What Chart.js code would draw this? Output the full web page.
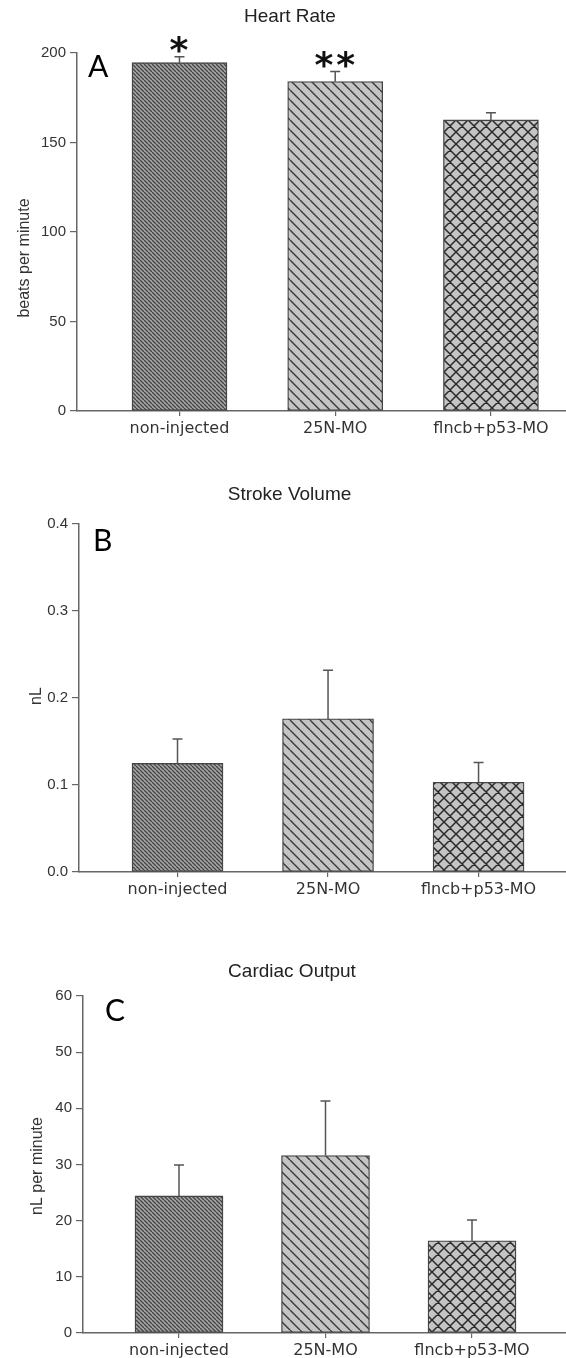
<!DOCTYPE html>
<html>
<head>
<meta charset="utf-8">
<script src="https://cdn.jsdelivr.net/npm/chart.js@4.4.1/dist/chart.umd.min.js"></script>
<style>
body { margin: 0; background: #fff; width: 566px; height: 1358px; position: relative; overflow: hidden; }
canvas { position: absolute; left: 0; }
</style>
</head>
<body>
<canvas id="hr" width="566" height="450" style="top:0px"></canvas>
<canvas id="sv" width="566" height="450" style="top:450px"></canvas>
<canvas id="co" width="566" height="458" style="top:900px"></canvas>
<script>
// data
const groups = ['non-injected', '25N-MO', 'flncb+p53-MO'];

const heartRate = [194.6, 184.0, 162.6];
const heartRateErr = [3.3, 5.6, 4.0];
const heartRateStars = ['*', '**', ''];
const heartRateTicks = [0, 50, 100, 150, 200];

const strokeVolume = [0.125, 0.176, 0.103];
const strokeVolumeErr = [0.028, 0.056, 0.023];
const strokeVolumeTicks = [0, 0.1, 0.2, 0.3, 0.4];

const cardiacOutput = [24.4, 31.6, 16.4];
const cardiacOutputErr = [5.5, 9.7, 3.7];
const cardiacOutputTicks = [0, 10, 20, 30, 40, 50, 60];

// hatch tiles: "\" lines, optional cross
function hatchTile(size, bg, ink, width, cross) {
    const c = document.createElement('canvas');
    c.width = c.height = size;
    const g = c.getContext('2d');
    g.fillStyle = bg;
    g.fillRect(0, 0, size, size);
    g.strokeStyle = ink;
    g.lineWidth = width;
    g.beginPath();
    for (const k of [-1, 0, 1]) {
        g.moveTo(k * size, 0); g.lineTo(k * size + size, size);
        if (cross) { g.moveTo(k * size, size); g.lineTo(k * size + size, 0); }
    }
    g.stroke();
    return c;
}
const tiles = [
    hatchTile(4, '#a6a6a6', '#444', 1.3, false),
    hatchTile(10, '#c4c4c4', '#3a3a3a', 1.4, false),
    hatchTile(12, '#c4c4c4', '#2a2a2a', 1.5, true)
];

// error bars, stars, panel letter, y title
const extras = {
    id: 'extras',
    afterDatasetsDraw(chart, args, o) {
        const ctx = chart.ctx;
        const y = chart.scales.y;
        const ds = chart.data.datasets[0];
        const bars = chart.getDatasetMeta(0).data;
        ctx.save();
        ctx.strokeStyle = '#555';
        ctx.lineWidth = 1.5;
        bars.forEach((b, i) => {
            const top = y.getPixelForValue(ds.data[i].y + ds.errors[i]);
            ctx.beginPath();
            ctx.moveTo(b.x, b.y); ctx.lineTo(b.x, top);
            ctx.moveTo(b.x - 5, top); ctx.lineTo(b.x + 5, top);
            ctx.stroke();
            if (o.stars && o.stars[i]) {
                ctx.fillStyle = '#111';
                ctx.font = 'bold 36px "DejaVu Sans"';
                ctx.textAlign = 'center';
                ctx.textBaseline = 'alphabetic';
                ctx.letterSpacing = '3px';
                ctx.fillText(o.stars[i], b.x + 1, top + 5);
                ctx.letterSpacing = '0px';
            }
        });
        ctx.fillStyle = '#000';
        ctx.font = '30px Lato';
        ctx.textAlign = 'left';
        ctx.textBaseline = 'middle';
        ctx.fillText(o.letter, o.letterX, o.letterY);

        ctx.translate(o.titleX, o.titleY);
        ctx.rotate(-Math.PI / 2);
        ctx.fillStyle = '#333';
        ctx.font = '16px "Liberation Sans"';
        ctx.textAlign = 'center';
        ctx.fillText(o.yTitle, 0, 0);
        ctx.restore();
    }
};

function panel(p) {
    const canvas = document.getElementById(p.id);
    const ctx = canvas.getContext('2d');
    const H = canvas.height;
    new Chart(ctx, {
        type: 'bar',
        data: {
            datasets: [{
                data: p.values.map((v, i) => ({ x: i + 1, y: v })),
                errors: p.errors,
                backgroundColor: tiles.map(t => ctx.createPattern(t, 'repeat')),
                borderColor: '#444',
                borderWidth: 1.3,
                borderSkipped: false,
                barThickness: p.barWidth
            }]
        },
        options: {
            responsive: false,
            animation: false,
            layout: { padding: { left: p.padLeft, right: 0, top: 0, bottom: 0 } },
            plugins: {
                legend: { display: false },
                tooltip: { enabled: false },
                title: {
                    display: true,
                    text: p.title,
                    color: '#222',
                    font: { family: 'Liberation Sans', size: 19, weight: 'normal' },
                    padding: { top: p.titleY - 11.4, bottom: p.top - p.titleY - 11.4 }
                },
                extras: {
                    stars: p.stars,
                    letter: p.letter, letterX: p.letterX, letterY: p.letterY,
                    yTitle: p.yTitle, titleX: p.yTitleX, titleY: p.yTitleY
                }
            },
            scales: {
                x: {
                    type: 'linear',
                    offset: false,
                    min: p.xMin,
                    max: p.xMax,
                    afterFit: s => { s.height = H - p.bottom; },
                    afterBuildTicks: s => { s.ticks = groups.map((g, i) => ({ value: i + 1 })); },
                    border: { display: true, color: '#666', width: 1.5 },
                    grid: { offset: false, drawOnChartArea: false, drawTicks: true, tickLength: 5, color: '#666', lineWidth: 1.2 },
                    ticks: {
                        autoSkip: false, maxRotation: 0, padding: 3,
                        color: '#333',
                        font: { family: 'DejaVu Sans', size: 16 },
                        callback: (v, i) => groups[i]
                    }
                },
                y: {
                    min: 0,
                    max: p.ticks[p.ticks.length - 1],
                    afterFit: s => { s.width = p.axisX - p.padLeft; },
                    afterBuildTicks: s => { s.ticks = p.ticks.map(v => ({ value: v })); },
                    border: { display: true, color: '#666', width: 1.5 },
                    grid: { drawOnChartArea: false, drawTicks: true, tickLength: 7, color: '#666', lineWidth: 1.2 },
                    ticks: {
                        padding: 4,
                        color: '#333',
                        font: { family: 'Liberation Sans', size: 15 },
                        callback: p.fmt
                    }
                }
            }
        },
        plugins: [extras]
    });
}

panel({
    id: 'hr', title: 'Heart Rate', values: heartRate, errors: heartRateErr, stars: heartRateStars,
    ticks: heartRateTicks, fmt: v => String(v),
    padLeft: 14, axisX: 77, titleY: 17, top: 53, bottom: 411,
    xMin: 0.342, xMax: 3.482, barWidth: 95,
    letter: 'A', letterX: 88, letterY: 67,
    yTitle: 'beats per minute', yTitleX: 25, yTitleY: 258
});
panel({
    id: 'sv', title: 'Stroke Volume', values: strokeVolume, errors: strokeVolumeErr, stars: null,
    ticks: strokeVolumeTicks, fmt: v => v.toFixed(1),
    padLeft: 13, axisX: 79, titleY: 45, top: 74, bottom: 422,
    xMin: 0.3455, xMax: 3.581, barWidth: 91,
    letter: 'B', letterX: 93, letterY: 91,
    yTitle: 'nL', yTitleX: 37, yTitleY: 246
});
panel({
    id: 'co', title: 'Cardiac Output', values: cardiacOutput, errors: cardiacOutputErr, stars: null,
    ticks: cardiacOutputTicks, fmt: v => String(v),
    padLeft: 18, axisX: 83, titleY: 72, top: 96, bottom: 433,
    xMin: 0.3447, xMax: 3.6416, barWidth: 88,
    letter: 'C', letterX: 105, letterY: 111,
    yTitle: 'nL per minute', yTitleX: 38, yTitleY: 266
});
</script>
</body>
</html>
